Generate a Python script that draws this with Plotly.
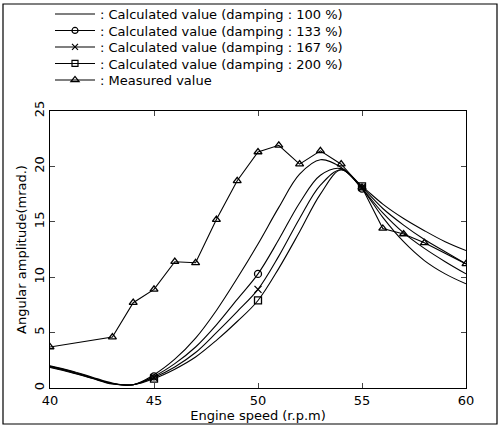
import plotly.graph_objects as go

# ---- data ----
speed_meas = [40, 43, 44, 45, 46, 47, 48, 49, 50, 51, 52, 53, 54, 55, 56, 57, 58, 60]
amp_meas = [3.7, 4.6, 7.7, 8.9, 11.4, 11.3, 15.2, 18.7, 21.3, 21.9, 20.2, 21.4, 20.2, 18.1, 14.4, 13.9, 13.1, 11.2]

speed_calc = [40, 41, 42, 43, 44, 45, 46, 47, 48, 49, 50, 51, 52, 53, 54, 55, 56, 57, 58, 59, 60]
amp_100 = [2.0, 1.55, 1.0, 0.45, 0.3, 1.2, 2.6, 4.5, 7.0, 9.9, 13.0, 16.3, 19.3, 20.6, 19.9, 18.0, 15.4, 13.2, 11.5, 10.3, 9.4]
amp_133 = [1.95, 1.5, 0.95, 0.4, 0.3, 1.05, 2.2, 3.7, 5.7, 8.0, 10.3, 13.4, 16.7, 19.2, 19.8, 18.0, 15.8, 14.0, 12.6, 11.4, 10.3]
amp_167 = [1.9, 1.45, 0.9, 0.38, 0.3, 0.95, 1.9, 3.2, 5.0, 6.9, 8.9, 11.9, 15.3, 18.3, 19.7, 18.1, 16.2, 14.7, 13.4, 12.3, 11.2]
amp_200 = [1.85, 1.4, 0.88, 0.36, 0.3, 0.85, 1.7, 2.8, 4.3, 6.0, 7.9, 10.8, 14.1, 17.5, 19.7, 18.2, 16.6, 15.3, 14.2, 13.2, 12.4]
marked_speeds = [45, 50, 55]

labels = [
    ": Calculated value (damping : 100 %)",
    ": Calculated value (damping : 133 %)",
    ": Calculated value (damping : 167 %)",
    ": Calculated value (damping : 200 %)",
    ": Measured value",
]
x_ticks = [40, 45, 50, 55, 60]
y_ticks = [0, 5, 10, 15, 20, 25]

FONT = "DejaVu Sans"
# plot area in pixels: left 50, right 466, top 111, bottom 388
PL, PR, PT, PB = 50, 466, 111, 388
PW, PH = PR - PL, PB - PT

def px_x(p):
    return (p - PL) / PW

def px_y(p):
    return (PB - p) / PH

legend_rows_px = [14, 30.5, 47, 63.5, 80]
legend_names = ["legend", "legend2", "legend3", "legend4", "legend5"]

fig = go.Figure()

series = [(amp_100, None), (amp_133, "circle-open"), (amp_167, "x-thin-open"), (amp_200, "square-open")]
for i, (amp, sym) in enumerate(series):
    fig.add_trace(go.Scatter(x=speed_calc, y=amp, mode="lines",
                             line=dict(color="black", width=1.1, shape="spline", smoothing=1.0),
                             showlegend=False, hoverinfo="skip"))
    if sym:
        mx = [s for s in speed_calc if s in marked_speeds]
        my = [a for s, a in zip(speed_calc, amp) if s in marked_speeds]
        fig.add_trace(go.Scatter(x=mx, y=my, mode="markers",
                                 marker=dict(symbol=sym, size=7, color="black",
                                             line=dict(width=1.3, color="black")),
                                 showlegend=False))
    # legend entry
    fig.add_trace(go.Scatter(x=[None], y=[None], mode="lines+markers" if sym else "lines",
                             name=labels[i], legend=legend_names[i],
                             line=dict(color="black", width=1.1),
                             marker=dict(symbol=sym or "circle", size=6, color="black",
                                         line=dict(width=1.2, color="black"))))

fig.add_trace(go.Scatter(x=speed_meas, y=amp_meas, mode="lines+markers", name=labels[4],
                         legend=legend_names[4],
                         line=dict(color="black", width=1.1),
                         marker=dict(symbol="triangle-up-open", size=7, color="black",
                                     line=dict(width=1.3, color="black"))))

legend_layout = {}
for name, row in zip(legend_names, legend_rows_px):
    legend_layout[name] = dict(x=px_x(50), y=px_y(row), xanchor="left", yanchor="middle",
                               bgcolor="rgba(0,0,0,0)", borderwidth=0,
                               font=dict(family=FONT, size=13), itemwidth=40)

fig.update_layout(
    width=504, height=432,
    margin=dict(l=PL, r=504 - PR, t=PT, b=432 - PB, autoexpand=False),
    paper_bgcolor="white", plot_bgcolor="white",
    font=dict(family=FONT, size=13, color="black"),
    xaxis=dict(range=[40, 60], tickvals=x_ticks, ticks="inside", ticklen=5,
               showline=True, linecolor="black", linewidth=1.2, mirror="ticks",
               showgrid=False, zeroline=False,
               title=dict(text="Engine speed (r.p.m)", standoff=2,
                          font=dict(family=FONT, size=13))),
    yaxis=dict(range=[0, 25], tickvals=y_ticks, ticks="inside", ticklen=5,
               tickangle=-90,
               showline=True, linecolor="black", linewidth=1.2, mirror="ticks",
               showgrid=False, zeroline=False,
               title=dict(text="Angular amplitude(mrad.)", standoff=2,
                          font=dict(family=FONT, size=13))),
    shapes=[dict(type="rect", xref="paper", yref="paper",
                 x0=px_x(3), x1=px_x(497), y0=px_y(424), y1=px_y(4),
                 line=dict(color="black", width=1.2))],
    **legend_layout,
)

fig.write_html("out.html")
